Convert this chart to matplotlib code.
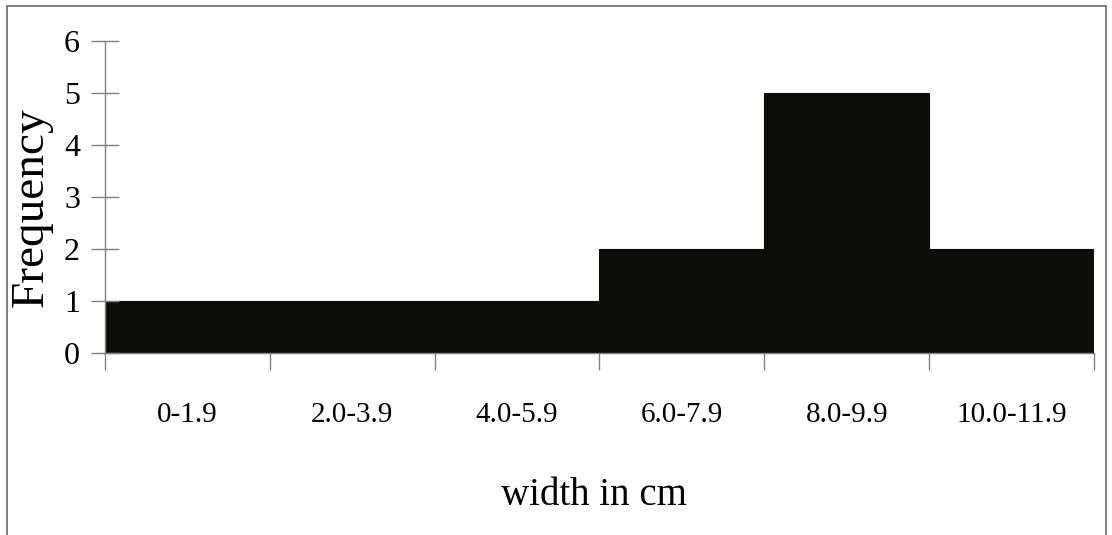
import matplotlib
matplotlib.use("Agg")
import matplotlib.pyplot as plt
from matplotlib.patches import Rectangle

categories = ["0-1.9", "2.0-3.9", "4.0-5.9", "6.0-7.9", "8.0-9.9", "10.0-11.9"]
frequency = [1, 1, 1, 2, 5, 2]
y_ticks = [0, 1, 2, 3, 4, 5, 6]

plt.rcParams['font.family'] = ['Liberation Serif', 'DejaVu Serif']

fig = plt.figure(figsize=(11.12, 5.35), dpi=100)
ax = fig.add_axes([0.0944, 0.340, 0.8894, 0.583])

x = list(range(len(categories)))
ax.bar(x, frequency, width=1.0, color="#0d0d0a", edgecolor="#0d0d0a", linewidth=0.8, align="center")

ax.set_xlim(-0.5, len(categories) - 0.5)
ax.set_ylim(0, 6)
ax.set_yticks(y_ticks)
ax.set_yticklabels([str(v) for v in y_ticks], fontsize=23)

# boundaries as major ticks, labels as minor ticks at centres
ax.set_xticks([i - 0.5 for i in range(len(categories) + 1)])
ax.set_xticklabels([])
ax.set_xticks(x, minor=True)
ax.set_xticklabels(categories, minor=True, fontsize=21)
ax.tick_params(axis='x', which='major', direction='out', length=12, color="#808080", width=1)
ax.tick_params(axis='x', which='minor', length=0, pad=35)
ax.tick_params(axis='y', direction='inout', length=20, color="#808080", width=1, pad=8)

for s in ["top", "right"]:
    ax.spines[s].set_visible(False)
for s in ["left", "bottom"]:
    ax.spines[s].set_color("#808080")
    ax.spines[s].set_linewidth(1)

ax.set_ylabel("Frequency", fontsize=34)
ax.yaxis.set_label_coords(0.047, 0.613, transform=fig.transFigure)
ax.set_xlabel("width in cm", fontsize=28)
ax.xaxis.set_label_coords(0.534, 0.108, transform=fig.transFigure)

# figure border
fig.patches.append(Rectangle((0.0063, -0.02), 0.988, 1.009, transform=fig.transFigure,
                             fill=False, edgecolor="#666666", linewidth=1.2))

fig.savefig("out.png", dpi=100)
